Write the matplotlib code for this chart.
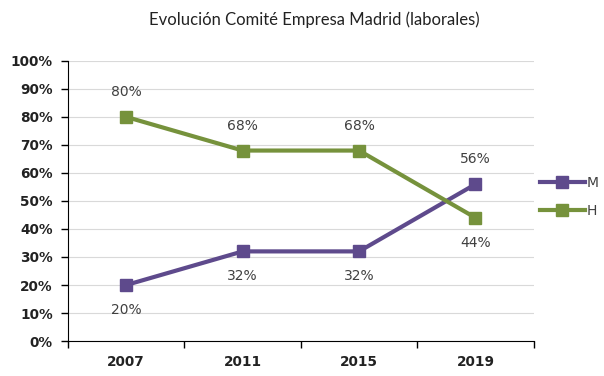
import matplotlib
matplotlib.use("Agg")
import matplotlib.pyplot as plt
from matplotlib.ticker import FixedLocator, NullFormatter, FixedFormatter

years = ["2007", "2011", "2015", "2019"]
m_vals = [20, 32, 32, 56]
h_vals = [80, 68, 68, 44]
yticks = [0, 10, 20, 30, 40, 50, 60, 70, 80, 90, 100]

c_m = "#5e4a8c"
c_h = "#76923c"

fig = plt.figure(figsize=(6.04, 3.76), dpi=100)
ax = fig.add_axes([0.1126, 0.093, 0.771, 0.745])

x = list(range(len(years)))
ax.plot(x, m_vals, color=c_m, lw=3, marker="s", ms=8, label="M", zorder=3)
ax.plot(x, h_vals, color=c_h, lw=3, marker="s", ms=8, label="H", zorder=3)

for i in x:
    m, h = m_vals[i], h_vals[i]
    m_off = 18 if m > h else -18
    h_off = 18 if h > m else -18
    ax.annotate(f"{m}%", (i, m), xytext=(0, m_off), textcoords="offset points",
                ha="center", va="center", fontsize=10, color="#404040", family="DejaVu Sans")
    ax.annotate(f"{h}%", (i, h), xytext=(0, h_off), textcoords="offset points",
                ha="center", va="center", fontsize=10, color="#404040", family="DejaVu Sans")

ax.set_xlim(-0.5, 3.5)
ax.set_ylim(0, 100)
ax.xaxis.set_major_locator(FixedLocator([-0.5, 0.5, 1.5, 2.5, 3.5]))
ax.xaxis.set_major_formatter(NullFormatter())
ax.xaxis.set_minor_locator(FixedLocator(x))
ax.xaxis.set_minor_formatter(FixedFormatter(years))
ax.tick_params(axis="x", which="minor", length=0, pad=10)
ax.tick_params(axis="x", which="major", length=5, width=1, color="black")
ax.set_yticks(yticks)
ax.set_yticklabels([f"{v}%" for v in yticks])
ax.tick_params(axis="y", length=5, width=1, pad=6)
for lab in ax.get_yticklabels() + ax.get_xticklabels(minor=True):
    lab.set_fontweight("bold")
    lab.set_fontsize(9.8)
    lab.set_color("#222222")
    lab.set_family("DejaVu Sans")

ax.grid(axis="y", color="#d9d9d9", lw=0.8)
ax.set_axisbelow(True)
for s in ["top", "right"]:
    ax.spines[s].set_visible(False)
ax.spines["left"].set_color("black")
ax.spines["bottom"].set_color("black")

fig.text(0.52, 0.947, "Evolución Comité Empresa Madrid (laborales)", ha="center", va="center",
         fontsize=12, color="#222222", family="Lato")

leg = fig.legend(loc="center left", bbox_to_anchor=(0.885, 0.476), frameon=False,
                 prop={"family": "DejaVu Sans", "size": 10},
                 handlelength=3.2, handletextpad=0.15, labelspacing=1.0, borderaxespad=0.0)
for t in leg.get_texts():
    t.set_color("#404040")

fig.savefig("out.png", dpi=100)
